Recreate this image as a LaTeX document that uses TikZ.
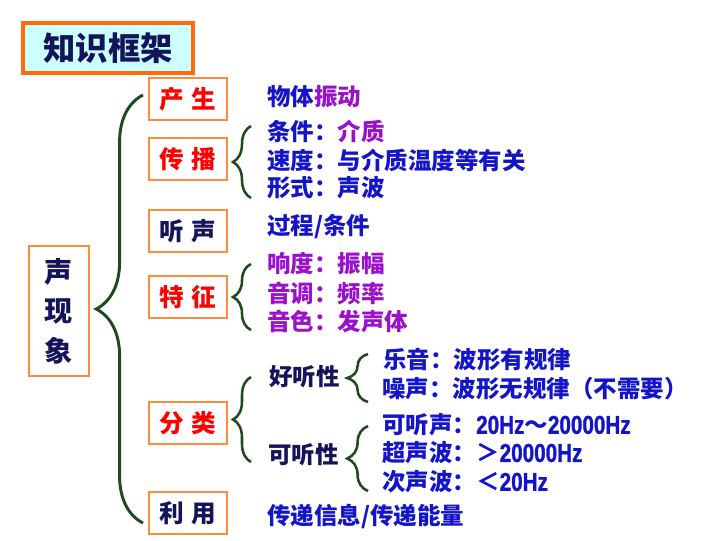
\documentclass[tikz,border=0pt]{standalone}
\usepackage{fontspec}
\setmainfont{Noto Sans CJK SC}
\newfontfamily\hzfont{Liberation Sans}[UprightFont={* Bold},BoldFont={* Bold},FakeStretch=0.8,FakeBold=1.2,Scale=1.1]
\usetikzlibrary{decorations.pathreplacing}
\definecolor{boxorange}{HTML}{FF8C3C}
\definecolor{titleorange}{HTML}{FF6A10}
\definecolor{titlefill}{HTML}{CCFFFF}
\definecolor{txtblue}{HTML}{1414C8}
\definecolor{txtnavy}{HTML}{14145A}
\definecolor{txtpurple}{HTML}{9A10CC}
\definecolor{bracegreen}{HTML}{1E4A1E}

\begin{document}
\begin{tikzpicture}[x=0.025cm,y=-0.025cm,
  every node/.style={font=\fontsize{16.7}{19}\selectfont\bfseries,inner sep=0pt},
  catbox/.style={draw=boxorange,line width=1.4pt,minimum width=1.95cm,minimum height=1.05cm,text=red,
    font=\fontsize{17.5}{20}\selectfont\bfseries},
  item/.style={anchor=west,text=txtblue},
  bigbrace/.style={draw=bracegreen,line width=2.1pt,decorate,decoration={brace,amplitude=1.17cm}},
  smallbrace/.style={draw=bracegreen,line width=1.8pt,decorate,decoration={brace,amplitude=#1}},
  smallbrace/.default=0.45cm]
\useasboundingbox (0,0) rectangle (720,540);
\node[draw=titleorange,line width=2.2pt,fill=titlefill,minimum width=4.25cm,minimum height=1.25cm,
  text=txtnavy,font=\fontsize{23}{26}\selectfont\bfseries] (title) at (108,48) {知识框架};
\node[draw=boxorange,line width=1.4pt,minimum width=1.5cm,minimum height=3.25cm,text=txtnavy,
  align=center,font=\fontsize{20}{28}\selectfont\bfseries] (root) at (59,311) {声\\现\\象};

\node[catbox] (chansheng) at (188,99) {产\hspace{5pt}生};
\node[catbox] (chuanbo) at (188,159) {传\hspace{5pt}播};
\node[catbox,text=txtnavy] (tingsheng) at (188,231) {听\hspace{5pt}声};
\node[catbox] (tezheng) at (188,297) {特\hspace{5pt}征};
\node[catbox] (fenlei) at (188,423) {分\hspace{5pt}类};
\node[catbox,text=txtnavy] (liyong) at (188,513) {利\hspace{5pt}用};

\coordinate (big-b) at (143,523);
\coordinate (big-t) at (143,95);
\draw[bigbrace] (big-b) -- (big-t);

\node[item] (wuti) at (267,97) {物体\textcolor{txtpurple}{振动}};
\coordinate (cb-b) at (251,198);
\coordinate (cb-t) at (251,126);
\draw[smallbrace] (cb-b) -- (cb-t);
\node[item] (tiaojian) at (267,131) {条件：\textcolor{txtpurple}{介质}};
\node[item] (sudu) at (267,160) {速度：与介质温度等有关};
\node[item] (xingshi) at (267,188) {形式：声波};
\node[item] (guocheng) at (267,227) {过程/条件};

\coordinate (tz-b) at (251,330);
\coordinate (tz-t) at (251,264);
\draw[smallbrace] (tz-b) -- (tz-t);
\node[item,text=txtpurple] (xiangdu) at (267,264) {响度：振幅};
\node[item,text=txtpurple] (yindiao) at (267,293) {音调：频率};
\node[item,text=txtpurple] (yinse) at (267,321) {音色：发声体};

\coordinate (fl-b) at (251,462);
\coordinate (fl-t) at (251,377);
\draw[smallbrace] (fl-b) -- (fl-t);
\node[item,text=txtnavy] (haoting) at (269,377) {好听性};
\coordinate (ht-b) at (368,402);
\coordinate (ht-t) at (368,354);
\draw[smallbrace=0.52cm] (ht-b) -- (ht-t);
\node[item] (yueyin) at (383,360) {乐音：波形有规律};
\node[item] (zaosheng) at (382,389) {噪声：波形无规律（不需要）};

\node[item,text=txtnavy] (keting) at (268,455) {可听性};
\coordinate (kt-b) at (368,491);
\coordinate (kt-t) at (368,426);
\draw[smallbrace=0.52cm] (kt-b) -- (kt-t);
\node[item] (kets) at (382,425) {可听声：{\hzfont 20Hz}～{\hzfont 20000Hz}};
\node[item] (chaosb) at (382,453) {超声波：＞{\hzfont 20000Hz}};
\node[item] (cisb) at (382,482) {次声波：＜{\hzfont 20Hz}};

\node[item] (chuandi) at (267,516) {传递信息/传递能量};
\end{tikzpicture}
\end{document}
